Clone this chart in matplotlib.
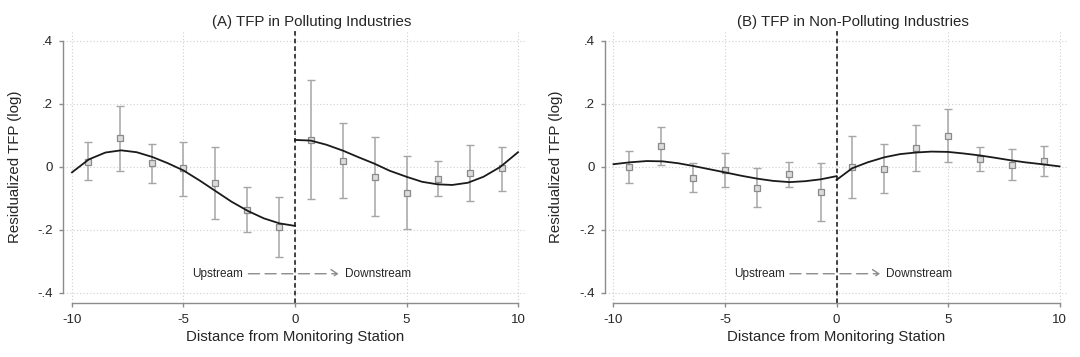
import numpy as np
import matplotlib
matplotlib.use("Agg")
import matplotlib.pyplot as plt

plt.rcParams['font.family'] = ['Liberation Sans', 'DejaVu Sans']

# bin centres (distance from station)
bin_x = [-9.29, -7.86, -6.43, -5.0, -3.57, -2.14, -0.71,
         0.71, 2.14, 3.57, 5.0, 6.43, 7.86, 9.29]

# panel A: polluting industries
a_coef = [0.016, 0.090, 0.011, -0.005, -0.052, -0.137, -0.193,
          0.085, 0.019, -0.032, -0.083, -0.038, -0.021, -0.005]
a_hi = [0.079, 0.194, 0.073, 0.079, 0.061, -0.063, -0.097,
        0.275, 0.138, 0.093, 0.034, 0.018, 0.068, 0.064]
a_lo = [-0.042, -0.013, -0.052, -0.092, -0.166, -0.208, -0.286,
        -0.103, -0.099, -0.156, -0.199, -0.093, -0.110, -0.076]

# panel B: non-polluting industries
b_coef = [0.000, 0.066, -0.035, -0.010, -0.067, -0.024, -0.080,
          0.000, -0.006, 0.058, 0.097, 0.024, 0.005, 0.019]
b_hi = [0.051, 0.125, 0.013, 0.042, -0.005, 0.015, 0.013,
        0.097, 0.072, 0.132, 0.183, 0.063, 0.055, 0.067]
b_lo = [-0.051, 0.005, -0.081, -0.065, -0.127, -0.065, -0.172,
        -0.098, -0.085, -0.014, 0.014, -0.014, -0.042, -0.029]

fit_x_left = [-10, -9.25, -8.5, -7.8, -7.1, -6.4, -5.7, -5.0,
              -4.25, -3.55, -2.85, -2.1, -1.4, -0.7, 0]
fit_x_right = [0, 0.7, 1.4, 2.15, 2.85, 3.55, 4.25, 5.0,
               5.7, 6.4, 7.05, 7.75, 8.45, 9.2, 10]
a_fit_left = [-0.018, 0.023, 0.045, 0.052, 0.046, 0.031, 0.011, -0.012,
              -0.045, -0.078, -0.111, -0.141, -0.164, -0.180, -0.188]
a_fit_right = [0.085, 0.083, 0.070, 0.051, 0.030, 0.010, -0.013, -0.032,
               -0.048, -0.056, -0.058, -0.051, -0.032, -0.001, 0.046]
b_fit_left = [0.008, 0.014, 0.018, 0.017, 0.011, 0.002, -0.008, -0.018,
              -0.029, -0.038, -0.045, -0.049, -0.046, -0.040, -0.030]
b_fit_right = [-0.042, -0.005, 0.014, 0.030, 0.040, 0.045, 0.048, 0.047,
               0.042, 0.036, 0.029, 0.021, 0.014, 0.008, 0.001]

x_ticks = [-10, -5, 0, 5, 10]
x_ticklabels = ['-10', '-5', '0', '5', '10']
y_ticks = [-0.4, -0.2, 0, 0.2, 0.4]
y_ticklabels = ['-.4', '-.2', '0', '.2', '.4']

axis_gray = '#8c8c8c'
text_col = '#262626'


def draw_panel(ax, title, coef, lo, hi, fit_l, fit_r):
    ax.set_xlim(-10.39, 10.39)
    ax.set_ylim(-0.432, 0.432)

    # grid
    for t in x_ticks:
        ax.axvline(t, color='#cfcfcf', lw=0.8, ls=(0, (1, 2)), zorder=0)
    for t in y_ticks:
        ax.axhline(t, color='#cfcfcf', lw=0.8, ls=(0, (1, 2)), zorder=0)

    # station line
    ax.axvline(0, color='#111111', lw=1.1, ls=(0, (3, 2)), zorder=1)

    c = np.array(coef)
    yerr = [c - np.array(lo), np.array(hi) - c]
    ax.errorbar(bin_x, coef, yerr=yerr, fmt='none', ecolor='#a6a6a6',
                elinewidth=1.1, capsize=3.2, capthick=1.0, zorder=2)
    ax.plot(bin_x, coef, ls='none', marker='s', ms=4.8, mfc='#dcdcdc',
            mec='#8a8a8a', mew=0.9, zorder=3)

    ax.plot(fit_x_left, fit_l, color='#1a1a1a', lw=1.3, zorder=4)
    ax.plot(fit_x_right, fit_r, color='#1a1a1a', lw=1.3, zorder=4)

    # upstream / downstream arrow
    ax.annotate('', xy=(1.95, -0.34), xytext=(-2.09, -0.34),
                arrowprops=dict(arrowstyle='->,head_length=0.45,head_width=0.3',
                                color='#8c8c8c', lw=1.0,
                                ls=(0, (8, 4)), shrinkA=0, shrinkB=0))
    ax.text(-2.32, -0.34, 'Upstream', ha='right', va='center',
            fontsize=8.5, color=text_col)
    ax.text(2.24, -0.34, 'Downstream', ha='left', va='center',
            fontsize=8.5, color=text_col)

    # Stata-like axes
    for s in ['top', 'right']:
        ax.spines[s].set_visible(False)
    ax.spines['left'].set_bounds(-0.4, 0.4)
    ax.spines['bottom'].set_bounds(-10, 10)
    for s in ['left', 'bottom']:
        ax.spines[s].set_color(axis_gray)
        ax.spines[s].set_linewidth(1.0)
    ax.set_xticks(x_ticks)
    ax.set_xticklabels(x_ticklabels)
    ax.set_yticks(y_ticks)
    ax.set_yticklabels(y_ticklabels)
    ax.tick_params(axis='both', direction='out', length=3, width=1.0,
                   color=axis_gray, labelsize=9.5, labelcolor=text_col)
    ax.tick_params(axis='x', pad=5)
    ax.tick_params(axis='y', pad=4.5)

    ax.set_xlabel('Distance from Monitoring Station', fontsize=10.8,
                  color=text_col, labelpad=3)
    ax.set_ylabel('Residualized TFP (log)', fontsize=10.8, color=text_col)
    ax.yaxis.set_label_coords(-0.09, 0.5)
    ax.text(0.5356, 1.033, title, transform=ax.transAxes, ha='center',
            va='center', fontsize=10.8, color=text_col)


fig = plt.figure(figsize=(10.8, 3.57), dpi=100, facecolor='white')
ax_a = fig.add_axes([0.0586, 0.1521, 0.4291, 0.7619])
ax_b = fig.add_axes([0.5600, 0.1521, 0.4291, 0.7619])

draw_panel(ax_a, '(A) TFP in Polluting Industries',
           a_coef, a_lo, a_hi, a_fit_left, a_fit_right)
draw_panel(ax_b, '(B) TFP in Non-Polluting Industries',
           b_coef, b_lo, b_hi, b_fit_left, b_fit_right)

fig.savefig('out.png', dpi=100, facecolor='white')
